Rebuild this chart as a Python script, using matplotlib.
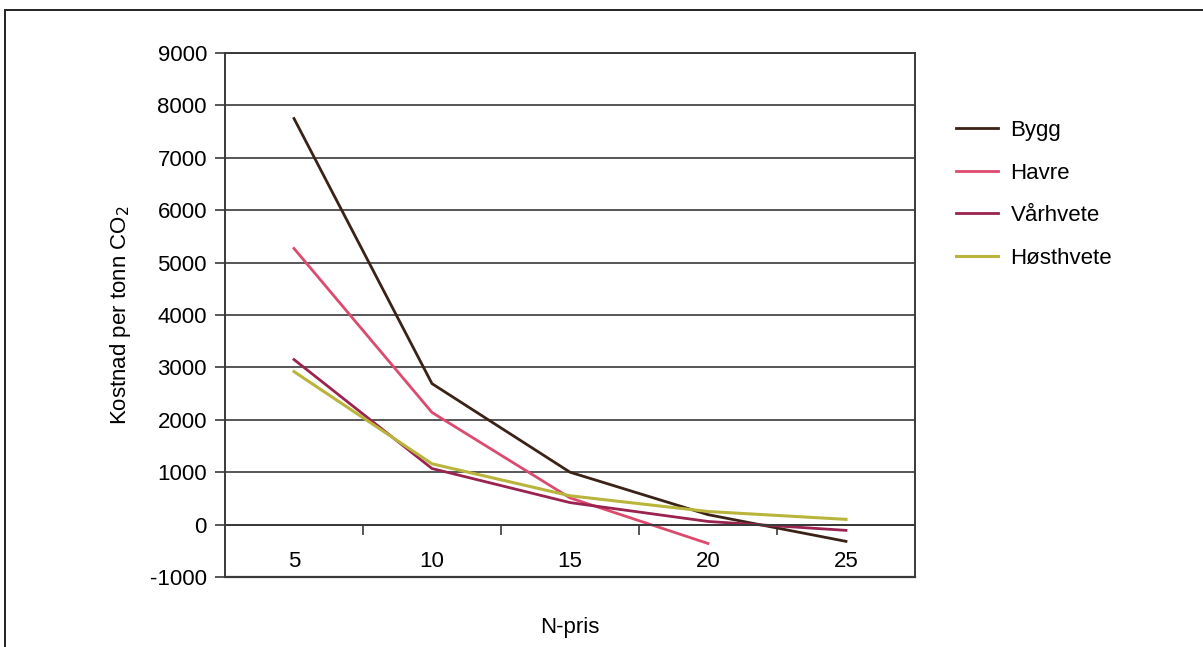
import numpy as np
import matplotlib
matplotlib.use("Agg")
import matplotlib.pyplot as plt
from matplotlib.patches import Rectangle
from matplotlib.ticker import FixedLocator

n_pris = ["5", "10", "15", "20", "25"]
bygg = [7750, 2690, 1000, 190, -320]
havre = [5270, 2140, 510, -360]
varhvete = [3150, 1070, 420, 60, -110]
hosthvete = [2920, 1160, 550, 250, 100]

C = {"bygg": "#3b2217", "havre": "#dc4a6e", "var": "#9a2350",
     "host": "#b9b53c", "grid": "#3a3a3a"}

plt.rcParams["font.family"] = ["Liberation Sans", "DejaVu Sans"]
plt.rcParams["axes.unicode_minus"] = False

fig = plt.figure(figsize=(12.03, 6.47), dpi=100)
ax = fig.add_axes([225 / 1203, 1 - 577 / 647, 690 / 1203, 524 / 647])

x = np.arange(len(n_pris))
ax.plot(x, bygg, color=C["bygg"], lw=2, label="Bygg")
ax.plot(x[:len(havre)], havre, color=C["havre"], lw=2, label="Havre")
ax.plot(x, varhvete, color=C["var"], lw=2, label="Vårhvete")
ax.plot(x, hosthvete, color=C["host"], lw=2.2, label="Høsthvete")

ax.set_xlim(-0.5, len(n_pris) - 0.5)
ax.set_ylim(-1000, 9000)
ax.set_yticks(np.arange(-1000, 9001, 1000))
ax.yaxis.grid(True, color=C["grid"], lw=1.2)
ax.set_axisbelow(True)
ax.tick_params(axis="y", direction="out", length=7, width=1.2, color=C["grid"],
               labelsize=16, pad=6)

# category axis crossing at zero
ax.spines["bottom"].set_position(("data", 0))
ax.set_xticks(x)
ax.set_xticklabels(n_pris)
ax.xaxis.set_minor_locator(FixedLocator(np.arange(0.5, len(n_pris) - 0.5, 1)))
ax.tick_params(axis="x", which="major", length=0, labelsize=16, pad=19)
ax.tick_params(axis="x", which="minor", direction="out", length=7, width=1.2, color=C["grid"])
ax.axhline(-1000, color=C["grid"], lw=1.6, clip_on=False)
for s in ax.spines.values():
    s.set_color(C["grid"])
    s.set_linewidth(1.4)

ax.set_ylabel("Kostnad per tonn CO$_2$", fontsize=16, labelpad=12)
fig.text(570 / 1203, 1 - 628 / 647, "N-pris", fontsize=16, ha="center", va="center")

fig.legend(loc="upper left", bbox_to_anchor=(936 / 1203, 1 - 100 / 647), frameon=False,
           fontsize=16, handlelength=1.9, labelspacing=0.97, handletextpad=0.55)

fig.patches.append(Rectangle((5 / 1203, -0.1), 1.2, 1.1 - 10 / 647, transform=fig.transFigure,
                             fill=False, edgecolor="#222222", lw=1.4))

fig.savefig("out.png", dpi=100)
